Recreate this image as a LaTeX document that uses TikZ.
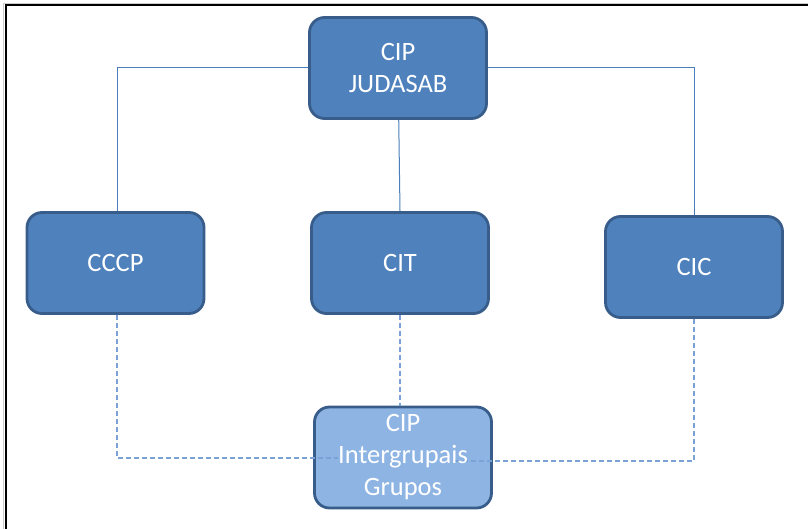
\documentclass[tikz,border=0pt]{standalone}
\usepackage{fontspec}
\setmainfont{Carlito}
\usetikzlibrary{backgrounds}
\definecolor{boxfill}{HTML}{4F81BD}
\definecolor{boxline}{HTML}{385D8A}
\definecolor{lightfill}{HTML}{8EB4E3}
\definecolor{conn}{HTML}{4A7EBB}
\definecolor{dconn}{HTML}{7AA2D6}
\begin{document}
\begin{tikzpicture}[x=1pt,y=-1pt,
  orgbox/.style={draw=boxline, line width=2.8pt, fill=boxfill, rounded corners=15pt,
    minimum width=177pt, minimum height=101pt, text=white, align=center,
    font=\fontsize{26.5}{32}\selectfont, inner sep=0pt},
  lightbox/.style={orgbox, fill=lightfill},
  boxtext/.style={text=white, align=center, font=\fontsize{26.5}{32}\selectfont, inner sep=0pt},
  solidconn/.style={draw=conn, line width=1pt},
  dashconn/.style={draw=dconn, line width=1.1pt, dash pattern=on 5pt off 3pt}]
\useasboundingbox (0,0) rectangle (808,529);
% nodes
\node[orgbox] (top) at (398,68) {CIP\\JUDASAB};
\node[orgbox] (cccp) at (115.5,263) {CCCP};
\node[orgbox] (cit) at (400,263) {CIT};
\node[orgbox] (cic) at (694,267) {CIC};
\node[lightbox, text opacity=0] (bot) at (403,457.5) {CIP\\Intergrupais\\Grupos};
% coordinates
\coordinate (tl) at (117,68);
\coordinate (tr) at (694,68);
\coordinate (bl) at (117,458);
\coordinate (bl2) at (338,458);
\coordinate (br) at (694,461);
\coordinate (br2) at (453,461);
\begin{scope}[on background layer]
\fill[white] (0,0) rectangle (808,529);
\draw[gray!40, line width=1pt] (3,529) -- (3,3.5) -- (808,3.5);
\draw[black, line width=2pt] (5.5,529) -- (5.5,5.5) -- (808,5.5);
\path[solidconn] (top.center) -- (tl) -- (cccp.north -| tl);
\path[solidconn] (top.center) -- (tr) -- (cic.north -| tr);
\path[solidconn] (top.center) -- (cit.north);
\end{scope}
% dashed connectors
\path[dashconn] (cccp.south -| bl) -- (bl) -- (bl2);
\path[dashconn] (cic.south -| br) -- (br) -- (br2);
\path[dashconn] (cit.south) -- (bot.north -| cit.south);
% text of bottom box on top
\node[boxtext] at (bot) {CIP\\Intergrupais\\Grupos};
\end{tikzpicture}
\end{document}
